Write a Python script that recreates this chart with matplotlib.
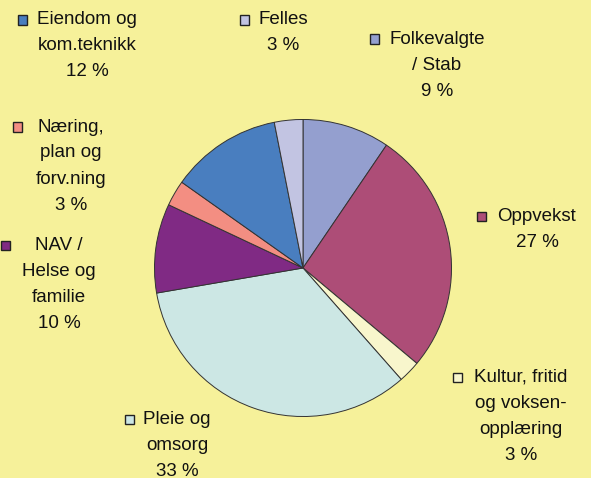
import matplotlib.pyplot as plt
from matplotlib.patches import Rectangle

plt.rcParams['font.family'] = ['Liberation Sans', 'DejaVu Sans']

# data, clockwise from 12 o'clock
omrader = ["Folkevalgte\n/ Stab", "Oppvekst", "Kultur, fritid\nog voksen-\nopplæring",
           "Pleie og\nomsorg", "NAV /\nHelse og\nfamilie", "Næring,\nplan og\nforv.ning",
           "Eiendom og\nkom.teknikk", "Felles"]
andeler = [9.5, 26.6, 2.4, 33.8, 9.7, 2.8, 12.1, 3.1]
prosent = ["9 %", "27 %", "3 %", "33 %", "10 %", "3 %", "12 %", "3 %"]
farger = ["#949FCF", "#AD4D77", "#F8F6CC", "#CCE7E4", "#802A84", "#F38E82",
          "#497EBF", "#C2C4E2"]

# label placement in pixels: text centre x, first line y, marker x
plassering = [(437, 39, 370), (537, 216, 477), (521, 377, 453), (177, 419, 125),
              (59, 246, 1), (71, 127, 13), (87, 20, 18), (283, 20, 240)]

W, H = 591, 478
bg = "#F6F19A"
fig = plt.figure(figsize=(W / 100, H / 100), dpi=100, facecolor=bg)

ax = fig.add_axes([153 / W, 1 - 418 / H, 300 / W, 300 / H])
ax.set_facecolor(bg)
ax.pie(andeler, colors=farger, startangle=90, counterclock=False, radius=1,
       wedgeprops=dict(edgecolor="#333333", linewidth=0.7))
ax.set_xlim(-1.01, 1.01)
ax.set_ylim(-1.01, 1.01)
ax.axis("off")

linje = 26
for navn, pst, farge, (cx, y0, mx) in zip(omrader, prosent, farger, plassering):
    linjer = navn.split("\n") + [pst]
    for i, tekst in enumerate(linjer):
        fig.text(cx / W, 1 - (y0 + i * linje) / H, tekst, ha="center", va="center",
                 fontsize=13.5, color="#111111")
    s = 9
    fig.patches.append(Rectangle((mx / W, 1 - (y0 + s / 2) / H), s / W, s / H,
                                 facecolor=farge, edgecolor="#222222", linewidth=1.0,
                                 transform=fig.transFigure, figure=fig))

fig.savefig("out.png", dpi=100, facecolor=bg)
